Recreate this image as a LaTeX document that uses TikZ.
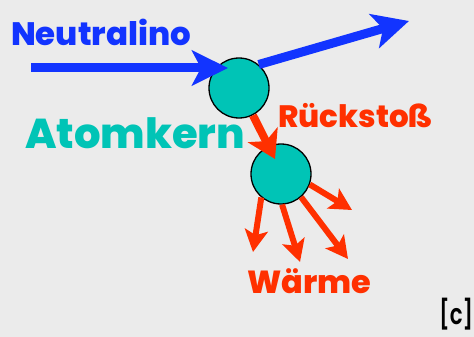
\documentclass[tikz,border=0pt]{standalone}
\usepackage{fontspec}
\setmainfont{Poppins}
\newfontfamily\heavyfont{Poppins ExtraBold}
\newfontfamily\semifont{Poppins SemiBold}
\usetikzlibrary{arrows.meta}
\definecolor{bgc}{RGB}{235,235,235}
\definecolor{nblue}{RGB}{18,52,255}
\definecolor{nteal}{RGB}{0,196,182}
\definecolor{nred}{RGB}{255,48,0}
\tikzset{
  nucleus/.style={circle,draw=black,line width=1.3pt,fill=nteal,minimum size=60pt,inner sep=0pt},
  bluearrow/.style={draw=nblue,line width=9pt,-{Stealth[length=36pt,width=35pt,inset=9pt]}},
  recoilarrow/.style={draw=nred,line width=8pt,-{Stealth[length=27pt,width=33pt,inset=7pt]}},
  heatarrow/.style={draw=nred,line width=6pt,-{Stealth[length=22pt,width=23pt,inset=5pt]}},
  lbl/.style={inner sep=0pt,anchor=base west}
}
\begin{document}
\begin{tikzpicture}[x=1pt,y=-1pt]
\fill[bgc] (0,0) rectangle (474,337);
\useasboundingbox (0,0) rectangle (474,337);
\node[nucleus] (c1) at (239,88) {};
\node[nucleus] (c2) at (281,174) {};
\coordinate (inStart) at (31,68);
\coordinate (inTip) at (228,68);
\coordinate (outTip) at (409,21);
\coordinate (recTip) at (275,159);
\coordinate (h1) at (253,252);
\coordinate (h2) at (300,262);
\coordinate (h3) at (348,259);
\coordinate (h4) at (352,210);
\draw[bluearrow] (inStart) -- (inTip);
\draw[bluearrow] (c1.50) -- (outTip);
\draw[recoilarrow] (c1.-63) -- (recTip);
\draw[heatarrow] (c2.-130) -- (h1);
\draw[heatarrow] (c2.-88) -- (h2);
\draw[heatarrow] (c2.-49) -- (h3);
\draw[heatarrow] (c2.-20) -- (h4);
\node[lbl,text=nblue] (tneu) at (11,46) {\resizebox{180pt}{!}{\fontsize{30}{30}\heavyfont Neutralino}};
\node[lbl,text=nteal] (tatom) at (25,148) {\resizebox{220pt}{!}{\fontsize{36}{36}\heavyfont Atomkern}};
\node[lbl,text=nred] (trueck) at (278,127) {\resizebox{155pt}{!}{\fontsize{30}{30}\heavyfont Rückstoß}};
\node[lbl,text=nred] (twaerme) at (247,293) {\resizebox{124pt}{!}{\fontsize{30}{30}\heavyfont Wärme}};
\node[inner sep=0pt,anchor=south west] (tc) at (439,330) {\resizebox*{34pt}{32pt}{\fontsize{30}{30}\semifont [c]}};
\end{tikzpicture}
\end{document}
